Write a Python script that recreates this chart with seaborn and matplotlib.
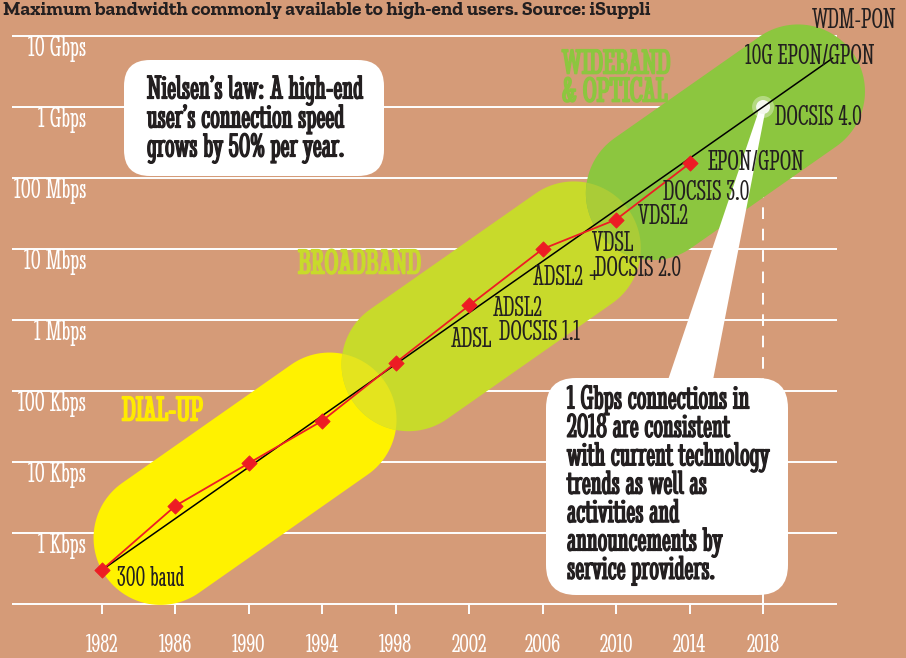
import numpy as np
import matplotlib
matplotlib.use("Agg")
import matplotlib.pyplot as plt
import seaborn as sns
from matplotlib.patches import Polygon, FancyBboxPatch, Circle
from matplotlib.transforms import IdentityTransform
from matplotlib import patheffects as pe

# ---- data ----
years = [1982, 1986, 1990, 1994, 1998, 2002, 2006, 2010, 2014]
speeds_bps = [300, 2.4e3, 9.6e3, 38e3, 250e3, 1.6e6, 10e6, 26e6, 160e6]

trend_years = [1982, 2021.8]          # Nielsen's law, +50% per year
trend_bps = [300, 4.9e9]

docsis4_year = [2018]
docsis4_bps = [1e9]

tick_years = [1982, 1986, 1990, 1994, 1998, 2002, 2006, 2010, 2014, 2018]
grid_values = [1e2, 1e3, 1e4, 1e5, 1e6, 1e7, 1e8, 1e9, 1e10]
grid_labels = ["", "1 Kbps", "10 Kbps", "100 Kbps", "1 Mbps", "10 Mbps",
               "100 Mbps", "1 Gbps", "10 Gbps"]

eras = ["DIAL-UP", "BROADBAND", "WIDEBAND\n& OPTICAL"]
era_start = [1985.2, 1998.7, 2012.0]
era_end = [1994.4, 2007.7, 2019.9]

tech_labels = ["300 baud", "ADSL", "ADSL2", "DOCSIS 1.1", "ADSL2 +", "VDSL",
               "DOCSIS 2.0", "VDSL2", "DOCSIS 3.0", "EPON/GPON", "DOCSIS 4.0",
               "10G EPON/GPON", "WDM-PON"]

title = "Maximum bandwidth commonly available to high-end users. Source: iSuppli"
note1 = "Nielsen\u2019s law: A high-end\nuser\u2019s connection speed\ngrows by 50% per year."
note2 = ("1 Gbps connections in\n2018 are consistent\nwith current technology\n"
         "trends as well as\nactivities and\nannouncements by\nservice providers.")

# ---- layout (pixels) ----
W, H = 906, 658
tech_pos = [(117, 579), (451, 340), (493, 309), (499, 333), (533, 278), (592, 244),
            (595, 269), (638, 217), (663, 193), (708, 163), (775, 118),
            (745, 57), (812, 21)]
era_pos = [(122, 412), (298, 265), (562, 65)]

BG = "#D59B78"
RED = "#ED1C24"
INK = "#231F20"
era_colors = ["#FFF200", "#C8DA2B", "#8CC63F"]
overlap_colors = ["#E4E41E", "#AACC37"]
era_text_colors = ["#FFEB00", "#C8DA2B", "#8CC63F"]

sns.set_theme(style="white")
plt.rcParams["font.family"] = ["Stint Ultra Condensed", "DejaVu Serif"]


def bold(c, w=0.9):
    return [pe.withStroke(linewidth=w, foreground=c)]


fig = plt.figure(figsize=(W / 100, H / 100), dpi=100)
fig.patch.set_facecolor(BG)
ax = fig.add_axes([0, 0, 1, 1])
ax.set_facecolor(BG)
ax.set_yscale("log")
ax.set_xlim(1976.46, 2025.78)
ax.set_ylim(10 ** 1.239, 10 ** 10.507)
ax.set_axis_off()


def fx(x):
    return x / W


def fy(y):
    return 1 - y / H


# grid lines and ticks
ax.hlines(grid_values, 1977.1, 2022.0, color="white", lw=1.4, zorder=1)
ax.vlines(tick_years, 10 ** (2 - 10 / 71), 1e2, color="white", lw=1.4, zorder=1)
ax.vlines([2018], 1e2, 10 ** 7.97, color="white", lw=1.4, linestyles=(0, (6, 5)), zorder=1)
for v, lab in zip(grid_values, grid_labels):
    ax.text(1981.15, v * 10 ** -0.18, lab, ha="right", va="center",
            color="white", fontsize=21.5, zorder=7)
for yr in tick_years:
    ax.text(yr, 10 ** 1.42, str(yr), ha="center", va="center",
            color="white", fontsize=20.5, zorder=7)

# era bands (stadiums along the trend line)
fig.canvas.draw()
tlog = np.log10(trend_bps)


def centre(yr):
    v = 10 ** np.interp(yr, trend_years, tlog)
    x, y = ax.transData.transform((yr, v))
    return np.array([x, y - 9])


def stadium(c1, c2, r, n=60):
    d = c2 - c1
    a = np.arctan2(d[1], d[0])
    t1 = np.linspace(a - np.pi / 2, a + np.pi / 2, n)
    t2 = np.linspace(a + np.pi / 2, a + 3 * np.pi / 2, n)
    p2 = np.c_[c2[0] + r * np.cos(t1), c2[1] + r * np.sin(t1)]
    p1 = np.c_[c1[0] + r * np.cos(t2), c1[1] + r * np.sin(t2)]
    return np.vstack([p2, p1])


pills, pill_patches = [], []
for s, e, c in zip(era_start, era_end, era_colors):
    pts = stadium(centre(s), centre(e), 67)
    p = Polygon(pts, closed=True, facecolor=c, edgecolor="none",
                transform=IdentityTransform(), zorder=2)
    ax.add_patch(p)
    pills.append(pts)
    pill_patches.append(p)
for i, oc in enumerate(overlap_colors):
    o = Polygon(pills[i + 1], closed=True, facecolor=oc, edgecolor="none",
                transform=IdentityTransform(), zorder=2.1)
    ax.add_patch(o)
    o.set_clip_path(pill_patches[i])
for lab, (x, y), c in zip(eras, era_pos, era_text_colors):
    for j, part in enumerate(lab.split("\n")):
        fig.text(fx(x), fy(y + 28 * j), part, ha="left", va="center", color=c,
                 fontsize=25.5, path_effects=bold(c, 1.2), zorder=7)

# white wedge from the note box to DOCSIS 4.0
dx, dy = ax.transData.transform((docsis4_year[0], docsis4_bps[0]))
wedge = Polygon([(668, H - 380), (713, H - 380), (dx + 3, dy), (dx - 3, dy)],
                closed=True, facecolor="white", edgecolor="none",
                transform=IdentityTransform(), zorder=3)
ax.add_patch(wedge)
ax.add_patch(Circle((dx, dy), 11, facecolor="white", alpha=0.35, edgecolor="none",
                    transform=IdentityTransform(), zorder=3))
ax.add_patch(Circle((dx, dy), 7, facecolor="#F4F8EE", edgecolor="none",
                    transform=IdentityTransform(), zorder=3))

# note boxes
for (x0, y0, x1, y1, rr) in [(124, 60, 384, 176, 26), (546, 378, 788, 595, 30)]:
    ax.add_patch(FancyBboxPatch((x0, H - y1), x1 - x0, y1 - y0,
                                boxstyle=f"round,pad=0,rounding_size={rr}",
                                facecolor="white", edgecolor="none",
                                transform=IdentityTransform(), zorder=4))
for i, line in enumerate(note1.split("\n")):
    fig.text(fx(147), fy(90 + 29 * i), line, ha="left", va="center",
             color=INK, fontsize=24.5, path_effects=bold(INK), zorder=8)
for i, line in enumerate(note2.split("\n")):
    fig.text(fx(567), fy(400 + 28.4 * i), line, ha="left", va="center",
             color=INK, fontsize=24.5, path_effects=bold(INK), zorder=8)

# trend and measured speeds
sns.lineplot(x=trend_years, y=trend_bps, color="black", lw=1.1, ax=ax, zorder=5)
sns.lineplot(x=years, y=speeds_bps, color=RED, lw=1.3, ax=ax, zorder=6)
sns.scatterplot(x=years, y=speeds_bps, marker="D", s=60, color=RED,
                edgecolor=RED, ax=ax, zorder=6)

for lab, (x, y) in zip(tech_labels, tech_pos):
    fig.text(fx(x), fy(y), lab, ha="left", va="center", color=INK,
             fontsize=21, zorder=8)

fig.text(fx(3), fy(15), title, ha="left", va="baseline", color=INK,
         fontsize=13.9, fontweight="bold", family=["Zilla Slab", "DejaVu Serif"])

fig.savefig("out.png", dpi=100, facecolor=BG)
